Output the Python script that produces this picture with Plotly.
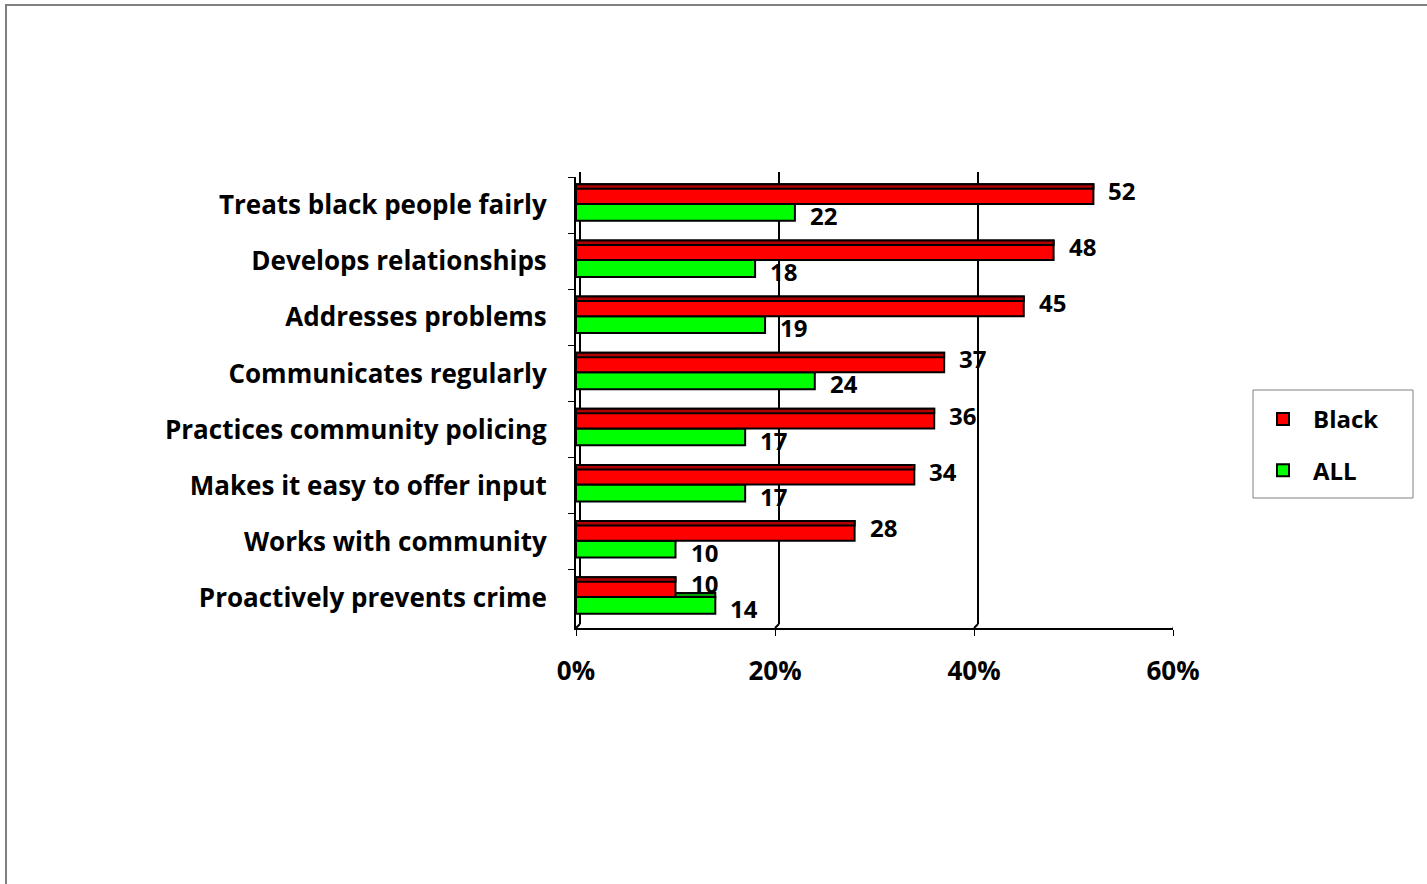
import plotly.graph_objects as go

categories = [
    "Treats black people fairly",
    "Develops relationships",
    "Addresses problems",
    "Communicates regularly",
    "Practices community policing",
    "Makes it easy to offer input",
    "Works with community",
    "Proactively prevents crime",
]
black_values = [52, 48, 45, 37, 36, 34, 28, 10]
all_values = [22, 18, 19, 24, 17, 17, 10, 14]
x_ticks = [0, 20, 40, 60]

FONT = "Open Sans"
FS = 24
LINE = dict(color="#000000", width=2)
fig = go.Figure()
# 3D top faces (green one sits behind the red bar)
fig.add_trace(go.Bar(
    y=categories, x=all_values, orientation="h", offset=-0.09, width=0.08,
    marker=dict(color="#00a000", line=LINE), showlegend=False, hoverinfo="skip",
))
fig.add_trace(go.Bar(
    name="ALL", y=categories, x=all_values, orientation="h", offset=-0.02, width=0.30,
    marker=dict(color="#00ff00", line=LINE), legendgroup="a", legendrank=2,
))
fig.add_trace(go.Bar(
    name="Black", y=categories, x=black_values, orientation="h", offset=-0.37, width=0.35,
    marker=dict(color="#ff0000", line=LINE), legendgroup="b", legendrank=1,
))
fig.add_trace(go.Bar(
    y=categories, x=black_values, orientation="h", offset=-0.37, width=0.08,
    marker=dict(color="#b00000", line=LINE), showlegend=False, hoverinfo="skip",
))

annotations = []
for c, v in zip(categories, black_values):
    annotations.append(dict(x=v, y=c, xref="x", yref="y", text=str(v), showarrow=False,
                            xanchor="left", xshift=13, yshift=15, height=26,
                            font=dict(family=FONT, size=FS, color="black", weight="bold")))
for c, v in zip(categories, all_values):
    annotations.append(dict(x=v, y=c, xref="x", yref="y", text=str(v), showarrow=False,
                            xanchor="left", xshift=13, yshift=-10, height=26,
                            font=dict(family=FONT, size=FS, color="black", weight="bold")))

shapes = []
# back wall gridlines (3D offset)
for t in x_ticks:
    shapes.append(dict(type="line", xref="x", yref="paper", xsizemode="pixel", xanchor=t,
                       x0=4, x1=4, y0=4 / 451, y1=1 + 5 / 451,
                       line=dict(color="black", width=2), layer="below"))
    shapes.append(dict(type="line", xref="x", yref="paper", xsizemode="pixel", xanchor=t,
                       x0=0, x1=4, y0=0, y1=4 / 451,
                       line=dict(color="black", width=2), layer="below"))
# outer chart border
shapes.append(dict(type="rect", xref="paper", yref="paper",
                   x0=(6 - 576) / 597, x1=(1440 - 576) / 597,
                   y0=(628 - 900) / 451, y1=(628 - 5) / 451,
                   line=dict(color="#808080", width=2), fillcolor="rgba(0,0,0,0)", layer="below"))
# legend frame
shapes.append(dict(type="rect", xref="paper", yref="paper",
                   x0=(1253 - 576) / 597, x1=(1413 - 576) / 597,
                   y0=(628 - 498) / 451, y1=(628 - 390) / 451,
                   line=dict(color="#808080", width=1), fillcolor="white", layer="below"))

fig.update_layout(
    width=1427, height=884,
    margin=dict(l=576, r=254, t=177, b=256),
    paper_bgcolor="white", plot_bgcolor="white",
    barmode="overlay",
    showlegend=True,
    legend=dict(x=(1253 - 576) / 597, y=(628 - 397) / 451, xanchor="left", yanchor="top",
                borderwidth=0, bgcolor="rgba(0,0,0,0)",
                tracegroupgap=17, traceorder="grouped", itemwidth=50,
                font=dict(family=FONT, size=FS, color="black", weight="bold")),
    xaxis=dict(range=[0, 60], tickvals=x_ticks, ticktext=[f"{t}%" for t in x_ticks],
               showgrid=False, zeroline=False, showline=True, linecolor="black", linewidth=2,
               ticks="outside", ticklen=6, tickcolor="black", tickwidth=1,
               ticklabelstandoff=13,
               tickfont=dict(family=FONT, size=26, color="black", weight="bold")),
    yaxis=dict(autorange="reversed", type="category", showgrid=False, zeroline=False,
               showline=True, linecolor="black", linewidth=2,
               ticks="outside", ticklen=6, tickcolor="black", tickwidth=1, tickson="boundaries",
               ticklabelstandoff=22,
               tickfont=dict(family=FONT, size=26, color="black", weight="bold")),
    annotations=annotations,
    shapes=shapes,
)
fig.write_html("out.html", post_script="document.body.style.margin='0';",
               config={"displayModeBar": False})
